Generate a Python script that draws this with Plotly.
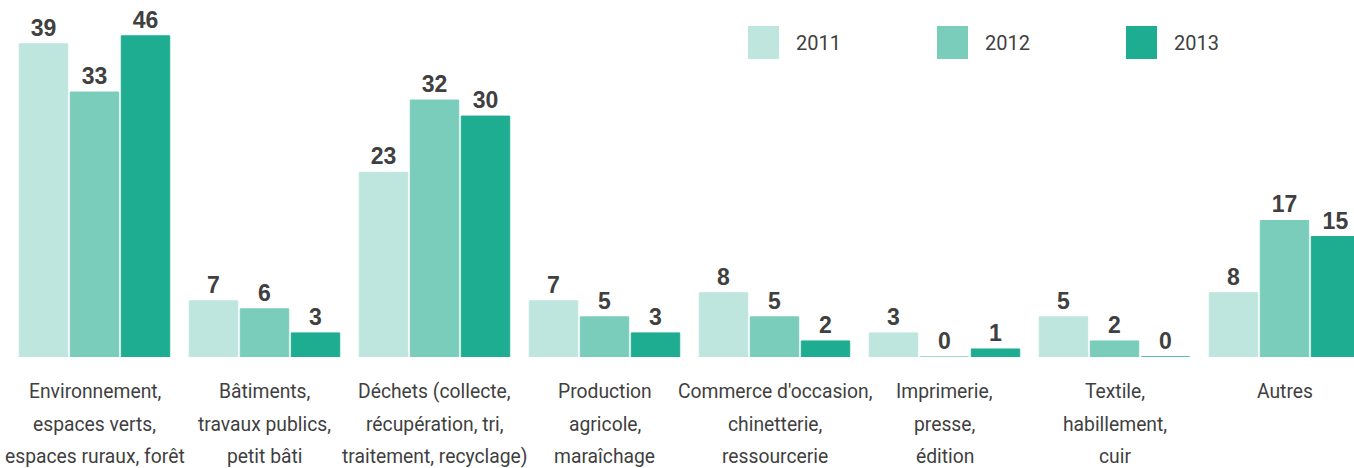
import plotly.graph_objects as go

categories = [
    "Environnement,<br>espaces verts,<br>espaces ruraux, forêt",
    "Bâtiments,<br>travaux publics,<br>petit bâti",
    "Déchets (collecte,<br>récupération, tri,<br>traitement, recyclage)",
    "Production<br>agricole,<br>maraîchage",
    "Commerce d'occasion,<br>chinetterie,<br>ressourcerie",
    "Imprimerie,<br>presse,<br>édition",
    "Textile,<br>habillement,<br>cuir",
    "Autres",
]
years = ["2011", "2012", "2013"]
v2011 = [39, 7, 23, 7, 8, 3, 5, 8]
v2012 = [33, 6, 32, 5, 5, 0, 2, 17]
v2013 = [46, 3, 30, 3, 2, 1, 0, 15]
series = [v2011, v2012, v2013]
colors = ["#bee6de", "#7bcdbb", "#1fad91"]

# the tallest bar is drawn truncated at the top of the scale in the original
BAR_CAP = 40

W, H = 1354, 468
PLOT_BOTTOM = 357          # pixel row of the baseline
PX_PER_UNIT = 8.03
GROUP_PX = 170
FIRST_CENTER_PX = 94.5

LABEL_FONT = "Roboto, Liberation Sans, Arial, sans-serif"
VALUE_FONT = "Liberation Sans, Arial, sans-serif"
TEXT_COLOR = "#3f3f3f"

fig = go.Figure()
for name, vals, col in zip(years, series, colors):
    fig.add_trace(go.Bar(
        name=name,
        x=categories,
        y=[min(v, BAR_CAP) for v in vals],
        text=[str(v) for v in vals],
        texttemplate="%{text}",
        textposition="outside",
        cliponaxis=False,
        textfont=dict(family=VALUE_FONT, size=23, color="#404040", weight="bold"),
        marker=dict(color=col, line=dict(color=col, width=1)),
        showlegend=False,
        hoverinfo="skip",
    ))

r0 = -FIRST_CENTER_PX / GROUP_PX
r1 = r0 + W / GROUP_PX

fig.update_layout(
    width=W, height=H,
    margin=dict(l=0, r=0, t=0, b=H - PLOT_BOTTOM, autoexpand=False),
    barmode="group",
    bargap=0.1,
    bargroupgap=0.05,
    plot_bgcolor="white",
    paper_bgcolor="white",
    xaxis=dict(
        range=[r0, r1],
        showgrid=False, zeroline=False, showline=False,
        showticklabels=False, ticks="",
        fixedrange=True,
    ),
    yaxis=dict(
        range=[0, PLOT_BOTTOM / PX_PER_UNIT],
        visible=False, showgrid=False, zeroline=False,
        fixedrange=True,
    ),
)

# category labels: one annotation per line, for the wider line spacing of the original
LINE_STEP = 32.5
FIRST_LINE_TOP = 21
for cat in categories:
    for i, line in enumerate(cat.split("<br>")):
        fig.add_annotation(
            x=cat, xref="x", y=0, yref="paper",
            yanchor="top", xanchor="center",
            yshift=-(FIRST_LINE_TOP + i * LINE_STEP),
            showarrow=False, text=line,
            font=dict(family=LABEL_FONT, size=19.3, color=TEXT_COLOR),
        )

# custom legend (large square swatches)
LEG_X0 = 748
LEG_STEP = 189
LEG_TOP, LEG_BOT = 26, 59
SW = 31
def py(p):
    return (PLOT_BOTTOM - p) / PLOT_BOTTOM

for i, (name, col) in enumerate(zip(years, colors)):
    x0 = LEG_X0 + i * LEG_STEP
    fig.add_shape(type="rect", xref="paper", yref="paper",
                  x0=x0 / W, x1=(x0 + SW) / W, y0=py(LEG_BOT), y1=py(LEG_TOP),
                  fillcolor=col, line=dict(width=0))
    fig.add_annotation(xref="paper", yref="paper",
                       x=(x0 + SW + 15) / W, y=py((LEG_TOP + LEG_BOT) / 2),
                       xanchor="left", yanchor="middle", showarrow=False,
                       text=name,
                       font=dict(family=LABEL_FONT, size=20, color=TEXT_COLOR))

fig.write_html(
    "out.html",
    config={"displayModeBar": False, "staticPlot": True},
    post_script="document.body.style.margin='0';document.body.style.overflow='hidden';",
)
